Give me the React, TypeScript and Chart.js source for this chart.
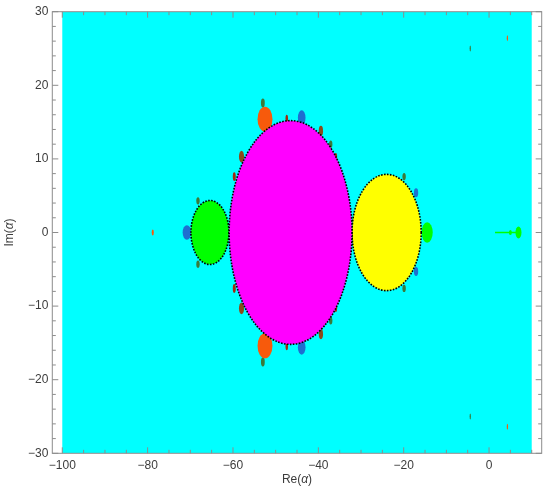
import React, { useEffect, useRef } from 'react';
import { Chart, registerables } from 'chart.js';

Chart.register(...registerables);

// Axis ranges (α plane)
const xRange = [-102.34, 12.34];
const yRange = [-30, 30];
// Sampled region of the parameter plane
const planeRe = [-100, 10];
const planeIm = [-30, 30];

// Tick values
const xMajorTicks = [-100, -80, -60, -40, -20, 0];
const xMinorTicks = [-100, -95, -90, -85, -80, -75, -70, -65, -60, -55, -50, -45, -40, -35, -30, -25, -20, -15, -10, -5, 0, 5, 10];
const yMajorTicks = [-30, -20, -10, 0, 10, 20, 30];
const yMinorTicks = [-30, -28, -26, -24, -22, -20, -18, -16, -14, -12, -10, -8, -6, -4, -2, 0, 2, 4, 6, 8, 10, 12, 14, 16, 18, 20, 22, 24, 26, 28, 30];

// Basins: centre (Re, Im) and half-widths (Re, Im), with the basin kind
const basinRe = [-46.5, -24.0, -65.4, -14.5, -52.5, -52.5, -43.9, -43.9, -70.8, -17.1, -17.1, -53.0, -53.0, -58.0, -58.0, -59.7, -59.7, -47.4, -47.4, -39.4, -39.4, -37.1, -37.1, -35.9, -35.9, -68.2, -68.2, -19.9, -19.9, -78.8, 6.9, 5.0, -4.4, -4.4, 4.3, 4.3];
const basinIm = [0, 0, 0, 0, 15.4, -15.4, 15.6, -15.6, 0, 5.4, -5.3, 17.6, -17.6, 10.3, -10.3, 7.6, -7.6, 15.5, -15.5, 13.8, -13.8, 12.0, -12.0, 10.3, -10.3, 4.3, -4.3, 7.6, -7.6, 0, 0, 0, 25.0, -25.0, 26.4, -26.4];
const basinHalfRe = [14.4, 8.1, 4.45, 1.3, 1.75, 1.75, 0.9, 0.9, 1.0, 0.5, 0.5, 0.45, 0.45, 0.6, 0.6, 0.35, 0.35, 0.3, 0.3, 0.5, 0.5, 0.4, 0.4, 0.3, 0.3, 0.4, 0.4, 0.4, 0.4, 0.25, 0.7, 0.35, 0.15, 0.15, 0.15, 0.15];
const basinHalfIm = [15.2, 7.9, 4.35, 1.4, 1.7, 1.7, 1.0, 1.0, 1.0, 0.6, 0.6, 0.6, 0.6, 0.8, 0.8, 0.6, 0.6, 0.5, 0.5, 0.7, 0.7, 0.5, 0.5, 0.5, 0.5, 0.5, 0.5, 0.5, 0.5, 0.4, 0.8, 0.35, 0.4, 0.4, 0.4, 0.4];
const basinKind = ['magenta', 'yellow', 'green', 'lime', 'orange', 'orange', 'blue', 'blue', 'blue', 'blue', 'blue', 'darkgreen', 'darkgreen', 'brown', 'brown', 'red', 'red', 'red', 'red', 'brown', 'brown', 'darkgreen', 'darkgreen', 'red', 'red', 'darkgreen', 'darkgreen', 'darkgreen', 'darkgreen', 'orange', 'lime', 'lime', 'darkgreen', 'darkgreen', 'orange', 'orange'];

// Thin green filament on the real axis
const filamentRe = [1.4, 6.5];
const filamentIm = [0, 0];

const kindOrder = ['darkgreen', 'brown', 'red', 'orange', 'blue', 'lime', 'green', 'yellow', 'magenta'];
const palette: Record<string, { fill: string; edge: boolean }> = {
  magenta: { fill: '#ff00ff', edge: true },
  yellow: { fill: '#ffff00', edge: true },
  green: { fill: '#00ff00', edge: true },
  lime: { fill: '#00ff00', edge: false },
  orange: { fill: '#f75a0c', edge: false },
  blue: { fill: '#1e6fd0', edge: false },
  darkgreen: { fill: '#3a7a3a', edge: false },
  brown: { fill: '#8a4a1a', edge: false },
  red: { fill: '#a02810', edge: false },
};
const CYAN = '#00ffff';
const TEXT = '#3c3c3c';
const FRAME = '#8c8c8c';
const FONT = '"Liberation Sans", Arial, sans-serif';

const fmt = (v: number) => (v < 0 ? '\u2212' + Math.abs(v) : String(v));

const plotPlugin = {
  id: 'plotPlugin',
  beforeDatasetsDraw(chart: any) {
    const { ctx, chartArea, scales } = chart;
    const xs = scales.x, ys = scales.y;
    ctx.save();
    ctx.beginPath();
    ctx.rect(chartArea.left, chartArea.top, chartArea.width, chartArea.height);
    ctx.clip();
    const px0 = xs.getPixelForValue(planeRe[0]);
    const px1 = xs.getPixelForValue(planeRe[1]);
    const py0 = ys.getPixelForValue(planeIm[1]);
    const py1 = ys.getPixelForValue(planeIm[0]);
    ctx.fillStyle = CYAN;
    ctx.fillRect(px0, py0, px1 - px0, py1 - py0);
    chart.data.datasets.forEach((ds: any) => {
      if (!ds.ellipse) return;
      ds.data.forEach((p: any) => {
        const cx = xs.getPixelForValue(p.x);
        const cy = ys.getPixelForValue(p.y);
        const rx = Math.abs(xs.getPixelForValue(p.x + p.rx) - cx);
        const ry = Math.abs(ys.getPixelForValue(p.y + p.ry) - cy);
        ctx.beginPath();
        ctx.ellipse(cx, cy, rx, ry, 0, 0, Math.PI * 2);
        ctx.fillStyle = ds.backgroundColor;
        ctx.fill();
        if (ds.edge) {
          ctx.strokeStyle = '#000';
          ctx.lineWidth = 1.6;
          ctx.setLineDash([1.6, 1.4]);
          ctx.stroke();
          ctx.setLineDash([]);
        }
      });
    });
    ctx.restore();
  },
  afterDraw(chart: any) {
    const { ctx, chartArea, scales } = chart;
    const xs = scales.x, ys = scales.y;
    const { left, right, top, bottom } = chartArea;
    ctx.save();
    ctx.strokeStyle = FRAME;
    ctx.lineWidth = 1;
    ctx.strokeRect(left, top, right - left, bottom - top);
    const tick = (x1: number, y1: number, x2: number, y2: number) => {
      ctx.beginPath();
      ctx.moveTo(x1, y1);
      ctx.lineTo(x2, y2);
      ctx.stroke();
    };
    xMinorTicks.forEach((v) => {
      const len = xMajorTicks.includes(v) ? 6 : 3.5;
      const p = xs.getPixelForValue(v);
      tick(p, bottom, p, bottom - len);
      tick(p, top, p, top + len);
    });
    yMinorTicks.forEach((v) => {
      const len = yMajorTicks.includes(v) ? 6 : 3.5;
      const p = ys.getPixelForValue(v);
      tick(left, p, left + len, p);
      tick(right, p, right - len, p);
    });
    // Axis titles
    ctx.fillStyle = TEXT;
    ctx.textBaseline = 'middle';
    const drawTitle = (parts: [string, boolean][], cx: number, cy: number, rot: number) => {
      ctx.save();
      ctx.translate(cx, cy);
      ctx.rotate(rot);
      let total = 0;
      parts.forEach(([t, it]) => {
        ctx.font = (it ? 'italic ' : '') + '12px ' + FONT;
        total += ctx.measureText(t).width;
      });
      let x = -total / 2;
      ctx.textAlign = 'left';
      parts.forEach(([t, it]) => {
        ctx.font = (it ? 'italic ' : '') + '12px ' + FONT;
        ctx.fillText(t, x, 0);
        x += ctx.measureText(t).width;
      });
      ctx.restore();
    };
    drawTitle([['Re(', false], ['\u03b1', true], [')', false]], (left + right) / 2, 480, 0);
    drawTitle([['Im(', false], ['\u03b1', true], [')', false]], 10, (top + bottom) / 2, -Math.PI / 2);
    ctx.restore();
  },
};

export default function App() {
  const ref = useRef<HTMLCanvasElement>(null);
  useEffect(() => {
    if (!ref.current) return;
    const datasets: any[] = kindOrder.map((kind) => {
      const data = basinKind
        .map((k, i) => (k === kind ? { x: basinRe[i], y: basinIm[i], rx: basinHalfRe[i], ry: basinHalfIm[i] } : null))
        .filter(Boolean);
      return {
        type: 'scatter',
        label: kind,
        data,
        ellipse: true,
        edge: palette[kind].edge,
        backgroundColor: palette[kind].fill,
        pointRadius: 0,
        pointHoverRadius: 0,
        showLine: false,
      };
    });
    datasets.push({
      type: 'line',
      label: 'filament',
      data: filamentRe.map((x, i) => ({ x, y: filamentIm[i] })),
      borderColor: '#00ff00',
      borderWidth: 1.5,
      pointRadius: 0,
      fill: false,
    });
    const chart = new Chart(ref.current, {
      type: 'scatter',
      data: { datasets },
      options: {
        animation: false,
        responsive: false,
        events: [],
        layout: { padding: { left: 0, top: 11.7, right: 8.3, bottom: 0 } },
        plugins: { legend: { display: false }, tooltip: { enabled: false } },
        scales: {
          x: {
            type: 'linear',
            min: xRange[0],
            max: xRange[1],
            afterBuildTicks: (s: any) => {
              s.ticks = xMajorTicks.map((v) => ({ value: v }));
            },
            afterFit: (s: any) => {
              s.height = 38.7;
            },
            grid: { display: false, drawTicks: false },
            border: { display: false },
            ticks: {
              color: TEXT,
              font: { family: FONT, size: 12 },
              padding: 5,
              maxRotation: 0,
              autoSkip: false,
              callback: (v: any) => fmt(Number(v)),
            },
          },
          y: {
            type: 'linear',
            min: yRange[0],
            max: yRange[1],
            afterBuildTicks: (s: any) => {
              s.ticks = yMajorTicks.map((v) => ({ value: v }));
            },
            afterFit: (s: any) => {
              s.width = 52.3;
            },
            grid: { display: false, drawTicks: false },
            border: { display: false },
            ticks: {
              color: TEXT,
              font: { family: FONT, size: 12 },
              padding: 4,
              autoSkip: false,
              callback: (v: any) => fmt(Number(v)),
            },
          },
        },
      },
      plugins: [plotPlugin],
    } as any);
    return () => chart.destroy();
  }, []);
  return (
    <div style={{ position: 'fixed', left: 0, top: 0, width: 550, height: 492, background: '#fff' }}>
      <canvas ref={ref} width={550} height={492} style={{ width: 550, height: 492 }} />
    </div>
  );
}
